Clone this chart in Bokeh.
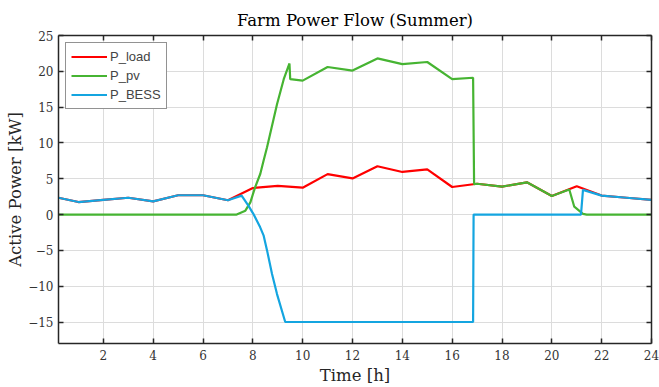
from bokeh.plotting import figure
from bokeh.models import Range1d, FixedTicker, Legend, LegendItem, LinearAxis, CustomLabelingPolicy
from bokeh.embed import file_html
from bokeh.resources import INLINE

# ---- data ----
t_load = [0.2, 1, 2, 3, 4, 5, 6, 7, 8, 9, 10, 11, 12, 13, 14, 15, 16, 17, 18, 19, 20, 21, 22, 23, 24]
p_load = [2.35, 1.75, 2.05, 2.35, 1.85, 2.7, 2.7, 2.0, 3.7, 4.0, 3.75, 5.65, 5.05, 6.75, 5.95, 6.3, 3.85, 4.3, 3.9, 4.5, 2.6, 3.95, 2.65, 2.35, 2.05]

t_pv = [0.2, 7.35, 7.7, 7.9, 8.09, 8.3, 8.43, 8.57, 8.77, 8.97, 9.24, 9.47, 9.5, 10, 11, 12, 13, 14, 15, 16, 16.84, 16.88, 17, 18, 19, 20, 20.7, 20.9, 21.25, 21.4, 24]
p_pv = [0, 0, 0.55, 1.7, 3.8, 5.7, 7.5, 9.4, 12.4, 15.4, 18.9, 21.1, 18.9, 18.7, 20.6, 20.1, 21.8, 21.0, 21.3, 18.9, 19.1, 4.25, 4.3, 3.9, 4.5, 2.6, 3.5, 1.1, 0.1, 0, 0]

t_bess = [0.2, 1, 2, 3, 4, 5, 6, 7, 7.55, 7.82, 8.02, 8.29, 8.43, 8.57, 8.77, 8.97, 9.3, 16.84, 16.86, 21.17, 21.25, 22, 23, 24]
p_bess = [2.35, 1.75, 2.05, 2.35, 1.85, 2.7, 2.7, 2.0, 2.65, 1.25, 0.1, -1.75, -2.9, -5.0, -8.3, -11.1, -15, -15, 0, 0, 3.45, 2.65, 2.35, 2.05]

x_ticks = [2, 4, 6, 8, 10, 12, 14, 16, 18, 20, 22, 24]
y_ticks = [-15, -10, -5, 0, 5, 10, 15, 20, 25]

SERIF = "DejaVu Serif"
AXC = "#262626"

p = figure(width=659, height=387, output_backend="svg", toolbar_location=None,
           x_range=Range1d(0.2, 24), y_range=Range1d(-18, 25),
           min_border_left=58, min_border_right=8, min_border_top=35, min_border_bottom=43,
           title="Farm Power Flow (Summer)")
p.title.text_font = SERIF
p.title.text_font_size = "16.5px"
p.title.text_font_style = "normal"
p.title.align = "center"
p.title.text_color = "#000000"
p.title.standoff = 4
p.outline_line_color = None
p.background_fill_color = "white"

for ax in (p.xaxis[0], p.yaxis[0]):
    ax.major_tick_in = 5
    ax.major_tick_out = 0
    ax.minor_tick_in = 0
    ax.minor_tick_out = 0
    ax.axis_line_color = AXC
    ax.axis_line_width = 1.5
    ax.major_tick_line_color = AXC
    ax.major_tick_line_width = 1.5
    ax.major_label_text_font = SERIF
    ax.major_label_text_font_size = "12px"
    ax.major_label_text_color = "#333333"
    ax.axis_label_text_font = SERIF
    ax.axis_label_text_font_size = "16.5px"
    ax.axis_label_text_font_style = "normal"
    ax.axis_label_text_color = "#262626"

p.xaxis[0].ticker = FixedTicker(ticks=x_ticks)
p.yaxis[0].ticker = FixedTicker(ticks=y_ticks)
p.xaxis[0].axis_label = "Time [h]"
p.yaxis[0].axis_label = "Active Power [kW]"
p.xaxis[0].major_label_standoff = 6
p.yaxis[0].major_label_standoff = 5
p.xaxis[0].axis_label_standoff = 3
p.yaxis[0].axis_label_standoff = 0

# box axes on top and right: inward ticks, no labels
no_labels = CustomLabelingPolicy(code="for (const i of indices) { indices.unset(i) }\nreturn indices")
for loc, tick in (("right", y_ticks), ("above", x_ticks)):
    a = LinearAxis(ticker=FixedTicker(ticks=tick))
    a.major_label_policy = no_labels
    a.major_label_text_font_size = "1px"
    a.major_label_standoff = 0
    a.major_tick_in = 5
    a.major_tick_out = 0
    a.minor_tick_in = 0
    a.minor_tick_out = 0
    a.axis_line_color = AXC
    a.axis_line_width = 1.5
    a.major_tick_line_color = AXC
    a.major_tick_line_width = 1.5
    p.add_layout(a, loc)

p.xgrid.ticker = FixedTicker(ticks=x_ticks)
p.ygrid.ticker = FixedTicker(ticks=y_ticks)
for g in (p.xgrid[0], p.ygrid[0]):
    g.grid_line_color = "#dcdcdc"
    g.grid_line_width = 1

r1 = p.line(t_load, p_load, line_color="#FF0000", line_width=2.2)
r2 = p.line(t_pv, p_pv, line_color="#46B432", line_width=2.2)
r3 = p.line(t_bess, p_bess, line_color="#14A5E0", line_width=2.2)

legend = Legend(items=[LegendItem(label="P_load", renderers=[r1]),
                       LegendItem(label="P_pv", renderers=[r2]),
                       LegendItem(label="P_BESS", renderers=[r3])],
                location="top_left")
legend.margin = 7
legend.padding = 5
legend.spacing = 2
legend.glyph_width = 36
legend.glyph_height = 17
legend.label_height = 17
legend.label_standoff = 3
legend.label_text_font = "Liberation Sans"
legend.label_text_font_size = "13px"
legend.border_line_color = "#262626"
legend.border_line_width = 1.2
legend.background_fill_alpha = 1
p.add_layout(legend)

open("out.html", "w").write(file_html(p, INLINE))
